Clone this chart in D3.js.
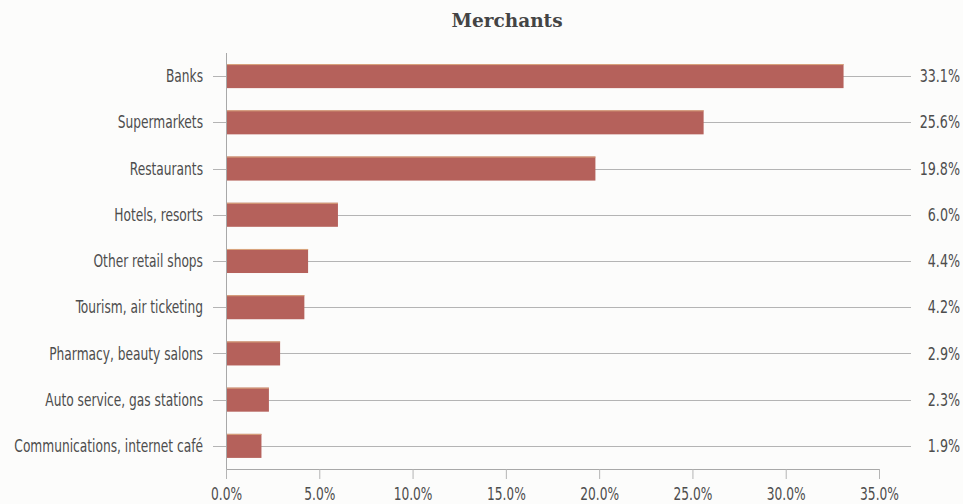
<!DOCTYPE html>
<html>
<head>
<meta charset="utf-8">
<script src="https://cdn.jsdelivr.net/npm/d3@7"></script>
<style>
  html, body { margin: 0; padding: 0; background: #fcfcfb; }
  svg { display: block; }
  .lbl { font-family: "DejaVu Sans Condensed", "DejaVu Sans", sans-serif; font-stretch: condensed; fill: #4d4d4d; font-size: 17px; }
</style>
</head>
<body>
<svg id="chart" width="963" height="504"></svg>
<script>
// Share of card payments by merchant type (%)
const categories = [
  "Banks",
  "Supermarkets",
  "Restaurants",
  "Hotels, resorts",
  "Other retail shops",
  "Tourism, air ticketing",
  "Pharmacy, beauty salons",
  "Auto service, gas stations",
  "Communications, internet café"
];
const values = [33.1, 25.6, 19.8, 6.0, 4.4, 4.2, 2.9, 2.3, 1.9];
const xTicks = [0, 5, 10, 15, 20, 25, 30, 35];
const title = "Merchants";

const svg = d3.select("#chart");
const plotLeft = 226, plotRight = 879, plotTop = 53, plotBottom = 469;
const squeeze = 0.8; // horizontal compression for the narrow label face

const x = d3.scaleLinear().domain([0, 35]).range([plotLeft, plotRight]);
const y = d3.scaleBand().domain(categories).range([plotTop, plotBottom]).paddingInner(0.48).paddingOuter(0.24);
const rowMid = d => y(d) + y.bandwidth() / 2;

// title
svg.append("text")
  .attr("x", 507).attr("y", 27)
  .attr("text-anchor", "middle")
  .attr("font-family", "'DejaVu Serif', 'Liberation Serif', serif")
  .attr("font-weight", "bold")
  .attr("font-size", 18.5)
  .attr("fill", "#444")
  .text(title);

// row guide lines running out to the value labels
const guideEnd = 911;
svg.append("g").selectAll("line")
  .data(categories)
  .join("line")
  .attr("x1", plotLeft - 13)
  .attr("x2", guideEnd)
  .attr("y1", d => Math.round(rowMid(d)) + 0.5)
  .attr("y2", d => Math.round(rowMid(d)) + 0.5)
  .attr("stroke", "#b4b4b4")
  .attr("stroke-width", 1);

// bars
svg.append("g").selectAll("rect")
  .data(values)
  .join("rect")
  .attr("x", x(0))
  .attr("y", (d, i) => y(categories[i]))
  .attr("width", d => x(d) - x(0))
  .attr("height", y.bandwidth())
  .attr("fill", "#b5615b");

// thin warm highlight along the top edge of each bar
svg.append("g").selectAll("line")
  .data(values)
  .join("line")
  .attr("x1", x(0))
  .attr("x2", d => x(d))
  .attr("y1", (d, i) => y(categories[i]) + 0.5)
  .attr("y2", (d, i) => y(categories[i]) + 0.5)
  .attr("stroke", "#d9a57e")
  .attr("stroke-width", 1);

// category labels
svg.append("g").selectAll("text")
  .data(categories)
  .join("text")
  .attr("class", "lbl")
  .attr("transform", d => `translate(${plotLeft - 23},${rowMid(d)}) scale(${squeeze},1)`)
  .attr("dy", "0.36em")
  .attr("text-anchor", "end")
  .text(d => d);

// value labels
svg.append("g").selectAll("text")
  .data(values)
  .join("text")
  .attr("class", "lbl")
  .attr("transform", (d, i) => `translate(960,${rowMid(categories[i])}) scale(0.83,1)`)
  .attr("dy", "0.36em")
  .attr("text-anchor", "end")
  .text(d => d.toFixed(1) + "%");

// vertical axis line
svg.append("line")
  .attr("x1", plotLeft + 0.5).attr("x2", plotLeft + 0.5)
  .attr("y1", plotTop).attr("y2", plotBottom)
  .attr("stroke", "#a8a8a8");

// x axis
const xAxis = d3.axisBottom(x)
  .tickValues(xTicks)
  .tickFormat(d => d.toFixed(1) + "%")
  .tickSizeOuter(0)
  .tickSize(10)
  .tickPadding(9);

const gx = svg.append("g")
  .attr("transform", `translate(0,${plotBottom})`)
  .call(xAxis);
gx.select(".domain").attr("stroke", "#a8a8a8");
gx.selectAll(".tick line").attr("stroke", "#b4b4b4");
gx.selectAll(".tick text")
  .attr("class", "lbl")
  .attr("font-size", null)
  .attr("font-family", null)
  .attr("transform", `scale(${squeeze},1)`);
</script>
</body>
</html>
